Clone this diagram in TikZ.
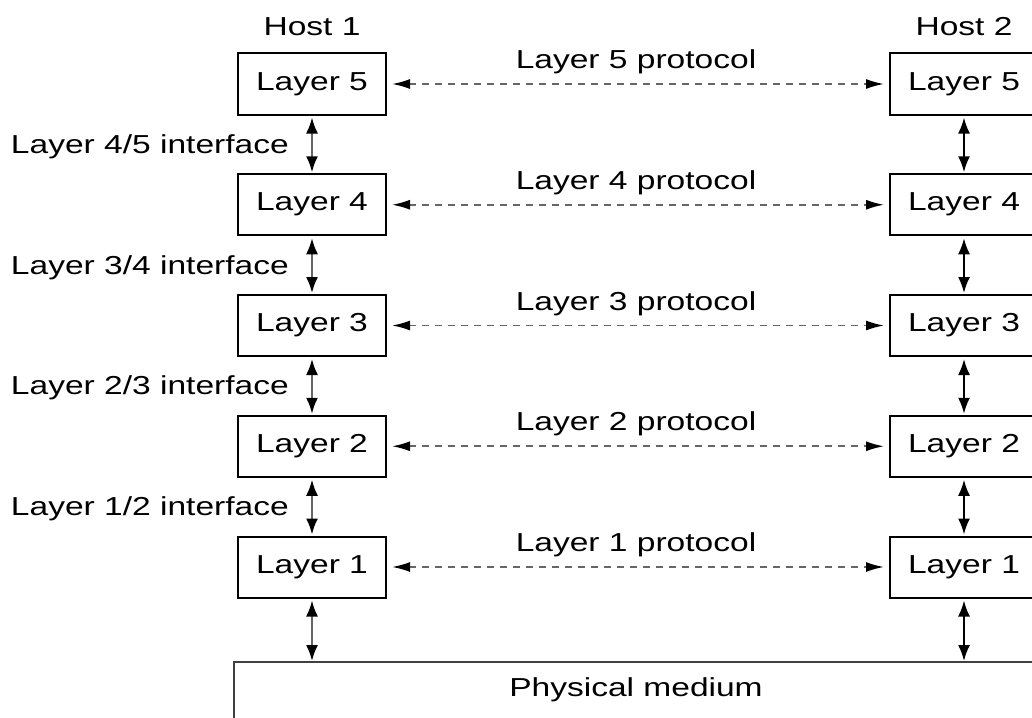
\documentclass[tikz,border=0pt]{standalone}
\usepackage{fontspec}
\setmainfont{Liberation Sans}[FakeStretch=1.29]
\usetikzlibrary{arrows.meta}
\begin{document}
\begin{tikzpicture}[x=1pt,y=-1pt,
  font=\fontsize{26}{30}\selectfont,
  layerbox/.style={draw=black,line width=2pt,minimum width=148pt,minimum height=61pt,inner sep=0pt},
  vlink/.style={line width=2pt,draw=#1,{Latex[length=16pt,width=12pt,color=black]}-{Latex[length=16pt,width=12pt,color=black]},shorten <=2pt,shorten >=1pt},
  hlink/.style={line width=1.8pt,draw=black!60,dash pattern=on 7pt off 6pt,{Latex[length=18pt,width=10pt,color=black]}-{Latex[length=18pt,width=10pt,color=black]},shorten <=5pt,shorten >=5pt},
  lbl/.style={inner sep=0pt}]
\useasboundingbox (0,0) rectangle (1032,717);
\begin{scope}
\clip (0,0) rectangle (1032,717);
% hosts
\node[lbl] (h1) at (312,27) {Host 1};
\node[lbl] (h2) at (964,27) {Host 2};
% boxes
\foreach \i/\y in {5/84,4/204.75,3/325.5,2/446.25,1/567}{
  \node[layerbox] (L\i) at (312,\y) {Layer \i};
  \node[layerbox] (R\i) at (964,\y) {Layer \i};
  \draw[hlink] (L\i.east) -- (R\i.west);
  \node[lbl] (p\i) at (636,\y-22) {Layer \i\ protocol};
}
% physical medium
\draw[line width=2pt,draw=black!75] (234,730) -- (234,662) -- (1045,662) -- (1045,730);
\node[lbl] (pm) at (636,690) {Physical medium};
\coordinate (mL) at (312,662);
\coordinate (mR) at (964,662);
% vertical links
\foreach \a/\b in {5/4,4/3,3/2,2/1}{
  \draw[vlink=black!60] (L\a.south) -- (L\b.north);
  \draw[vlink=black] (R\a.south) -- (R\b.north);
}
\draw[vlink=black!60] (L1.south) -- (mL);
\draw[vlink=black] (R1.south) -- (mR);
% interface labels
\node[lbl,anchor=east] (i45) at (289,147) {Layer 4/5 interface};
\node[lbl,anchor=east] (i34) at (289,268) {Layer 3/4 interface};
\node[lbl,anchor=east] (i23) at (289,388) {Layer 2/3 interface};
\node[lbl,anchor=east] (i12) at (289,509) {Layer 1/2 interface};
\end{scope}
\end{tikzpicture}
\end{document}
